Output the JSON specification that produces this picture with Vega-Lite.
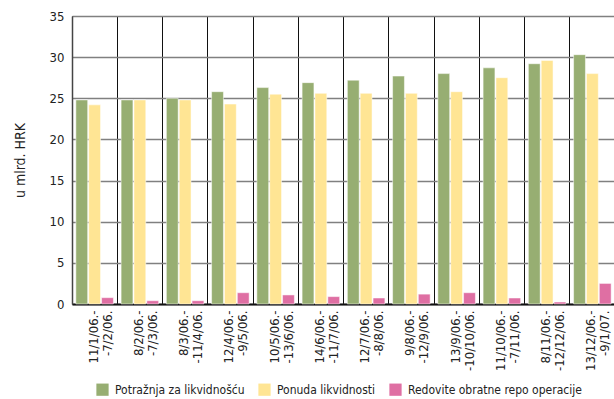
{
  "$schema": "https://vega.github.io/schema/vega-lite/v6.json",
  "width": 543,
  "height": 288,
  "autosize": "none",
  "padding": {"left": 72, "top": 16, "right": 0, "bottom": 95},
  "config": {
    "view": {"stroke": null},
    "font": "Liberation Sans Narrow, DejaVu Sans Condensed, sans-serif",
    "axis": {"labelFont": "Liberation Sans Narrow, DejaVu Sans Condensed, sans-serif", "titleFont": "Liberation Sans Narrow, DejaVu Sans Condensed, sans-serif", "labelColor": "#222", "titleColor": "#222"},
    "legend": {"labelFont": "Liberation Sans Narrow, DejaVu Sans Condensed, sans-serif"}
  },
  "data": {
    "values": [
      {"p": "11/1/06.-|-7/2/06.", "s": "Potražnja za likvidnošću", "v": 24.8},
      {"p": "11/1/06.-|-7/2/06.", "s": "Ponuda likvidnosti", "v": 24.2},
      {"p": "11/1/06.-|-7/2/06.", "s": "Redovite obratne repo operacije", "v": 0.77},
      {"p": "8/2/06.-|-7/3/06.", "s": "Potražnja za likvidnošću", "v": 24.8},
      {"p": "8/2/06.-|-7/3/06.", "s": "Ponuda likvidnosti", "v": 24.8},
      {"p": "8/2/06.-|-7/3/06.", "s": "Redovite obratne repo operacije", "v": 0.4},
      {"p": "8/3/06.-|-11/4/06.", "s": "Potražnja za likvidnošću", "v": 25.0},
      {"p": "8/3/06.-|-11/4/06.", "s": "Ponuda likvidnosti", "v": 24.8},
      {"p": "8/3/06.-|-11/4/06.", "s": "Redovite obratne repo operacije", "v": 0.4},
      {"p": "12/4/06.-|-9/5/06.", "s": "Potražnja za likvidnošću", "v": 25.8},
      {"p": "12/4/06.-|-9/5/06.", "s": "Ponuda likvidnosti", "v": 24.3},
      {"p": "12/4/06.-|-9/5/06.", "s": "Redovite obratne repo operacije", "v": 1.37},
      {"p": "10/5/06.-|-13/6/06.", "s": "Potražnja za likvidnošću", "v": 26.3},
      {"p": "10/5/06.-|-13/6/06.", "s": "Ponuda likvidnosti", "v": 25.5},
      {"p": "10/5/06.-|-13/6/06.", "s": "Redovite obratne repo operacije", "v": 1.1},
      {"p": "14/6/06.-|-11/7/06.", "s": "Potražnja za likvidnošću", "v": 26.9},
      {"p": "14/6/06.-|-11/7/06.", "s": "Ponuda likvidnosti", "v": 25.6},
      {"p": "14/6/06.-|-11/7/06.", "s": "Redovite obratne repo operacije", "v": 0.9},
      {"p": "12/7/06.-|-8/8/06.", "s": "Potražnja za likvidnošću", "v": 27.2},
      {"p": "12/7/06.-|-8/8/06.", "s": "Ponuda likvidnosti", "v": 25.6},
      {"p": "12/7/06.-|-8/8/06.", "s": "Redovite obratne repo operacije", "v": 0.73},
      {"p": "9/8/06.-|-12/9/06.", "s": "Potražnja za likvidnošću", "v": 27.7},
      {"p": "9/8/06.-|-12/9/06.", "s": "Ponuda likvidnosti", "v": 25.6},
      {"p": "9/8/06.-|-12/9/06.", "s": "Redovite obratne repo operacije", "v": 1.2},
      {"p": "13/9/06.-|-10/10/06.", "s": "Potražnja za likvidnošću", "v": 28.0},
      {"p": "13/9/06.-|-10/10/06.", "s": "Ponuda likvidnosti", "v": 25.8},
      {"p": "13/9/06.-|-10/10/06.", "s": "Redovite obratne repo operacije", "v": 1.37},
      {"p": "11/10/06.-|-7/11/06.", "s": "Potražnja za likvidnošću", "v": 28.7},
      {"p": "11/10/06.-|-7/11/06.", "s": "Ponuda likvidnosti", "v": 27.5},
      {"p": "11/10/06.-|-7/11/06.", "s": "Redovite obratne repo operacije", "v": 0.73},
      {"p": "8/11/06.-|-12/12/06.", "s": "Potražnja za likvidnošću", "v": 29.2},
      {"p": "8/11/06.-|-12/12/06.", "s": "Ponuda likvidnosti", "v": 29.6},
      {"p": "8/11/06.-|-12/12/06.", "s": "Redovite obratne repo operacije", "v": 0.24},
      {"p": "13/12/06.-|-9/1/07.", "s": "Potražnja za likvidnošću", "v": 30.3},
      {"p": "13/12/06.-|-9/1/07.", "s": "Ponuda likvidnosti", "v": 28.0},
      {"p": "13/12/06.-|-9/1/07.", "s": "Redovite obratne repo operacije", "v": 2.5}
    ]
  },
  "mark": {"type": "bar", "stroke": "white", "strokeWidth": 0.5},
  "encoding": {
    "x": {
      "field": "p", "type": "nominal", "sort": null,
      "scale": {"paddingInner": 0, "paddingOuter": 0},
      "axis": {
        "title": null, "labelAngle": -90, "labelAlign": "right", "labelBaseline": "middle",
        "labelExpr": "split(datum.label, '|')", "labelLineHeight": 14, "labelOffset": -1,
        "labelFontSize": 13, "labelPadding": 6, "ticks": false,
        "domainColor": "#111", "domainWidth": 2,
        "grid": true, "gridColor": "#111", "gridWidth": 1, "bandPosition": 0
      }
    },
    "xOffset": {
      "field": "s", "type": "nominal",
      "scale": {"domain": ["Potražnja za likvidnošću", "Ponuda likvidnosti", "Redovite obratne repo operacije"], "paddingInner": 0.08, "paddingOuter": 0.3}
    },
    "y": {
      "field": "v", "type": "quantitative",
      "scale": {"domain": [0, 35], "nice": false},
      "axis": {
        "title": "u mlrd. HRK", "titleFontSize": 14, "titleFontWeight": "normal", "titlePadding": 22,
        "values": [0, 5, 10, 15, 20, 25, 30, 35], "labelFontSize": 13, "labelPadding": 8, "ticks": false,
        "domainColor": "#444", "domainWidth": 1.5,
        "grid": true, "gridColor": "#808080", "gridWidth": 1.5
      }
    },
    "color": {
      "field": "s", "type": "nominal",
      "scale": {"domain": ["Potražnja za likvidnošću", "Ponuda likvidnosti", "Redovite obratne repo operacije"], "range": ["#97AE72", "#FFE594", "#DF6FA3"]},
      "legend": {
        "title": null, "orient": "none", "direction": "horizontal", "legendX": 24, "legendY": 367,
        "symbolType": "square", "symbolSize": 150, "symbolStrokeWidth": 0, "symbolOpacity": 1,
        "labelFontSize": 12, "labelColor": "#222", "columnPadding": 13, "labelOffset": 6, "labelLimit": 300
      }
    }
  }
}
